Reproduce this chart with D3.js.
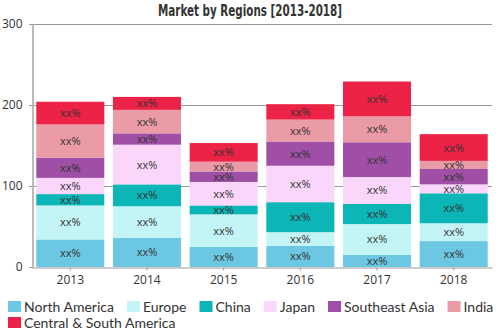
<!DOCTYPE html>
<html><head><meta charset="utf-8">
<script src="https://cdn.jsdelivr.net/npm/d3@7/dist/d3.min.js"></script>
<style>body{margin:0;background:#fff}svg{display:block}</style>
</head><body><svg id="c" width="500" height="333"></svg>
<script>
const years = ["2013","2014","2015","2016","2017","2018"];
const seriesNames = ["North America","Europe","China","Japan","Southeast Asia","India","Central & South America"];
const colors = ["#6cc8e2","#c3f5f6","#0cb5b6","#fbd6fb","#9f50a6","#eb9ba6","#ec2246"];
const northAmerica = [34,36,25,26,15,32];
const europe = [42,39,40,17,38,22];
const china = [14,27,11,37,25,37];
const japan = [20,49,29,45,33,11];
const southeastAsia = [25,14,13,30,43,19];
const india = [41,29,12,27,32,10];
const centralSouthAmerica = [28,16,23,19,43,33];
const yTicks = [0,100,200,300];
const labelText = "xx%";

const seriesValues = [northAmerica,europe,china,japan,southeastAsia,india,centralSouthAmerica];
const table = years.map((y,i)=>{const o={year:y};seriesNames.forEach((s,j)=>o[s]=seriesValues[j][i]);return o;});
const stacked = d3.stack().keys(seriesNames)(table);

const svg = d3.select("#c");
const font = "'Open Sans', sans-serif";
const x = d3.scaleBand().domain(years).range([32,492]).paddingInner(0.113).paddingOuter(0.056);
const y = d3.scaleLinear().domain([0,300]).range([267,24]);

svg.append("text").attr("x",250).attr("y",16).attr("text-anchor","middle")
  .attr("font-family","'DejaVu Sans Condensed','DejaVu Sans',sans-serif").attr("font-weight","bold")
  .attr("font-size",15).attr("fill","#333")
  .attr("textLength",184).attr("lengthAdjust","spacingAndGlyphs")
  .text("Market by Regions [2013-2018]");

// grid
svg.append("g").selectAll("line").data(yTicks.filter(t=>t>0)).join("line")
  .attr("x1",29).attr("x2",492).attr("y1",d=>y(d)+0.5).attr("y2",d=>y(d)+0.5)
  .attr("stroke","#999").attr("stroke-width",1);

// y axis
const ya = svg.append("g").attr("transform","translate(32.5,0)")
  .call(d3.axisLeft(y).tickValues(yTicks).tickSize(3).tickSizeOuter(0));
ya.select(".domain").attr("stroke","#bbb").attr("stroke-width",2);
ya.selectAll(".tick line").attr("stroke","#999");
ya.selectAll("text").attr("font-family",font).attr("font-size",12).attr("fill","#333").attr("x",-10);

// bars
const layer = svg.append("g").selectAll("g").data(stacked).join("g").attr("fill",(d,i)=>colors[i]);
layer.selectAll("rect").data(d=>d).join("rect")
  .attr("x",d=>x(d.data.year)).attr("width",x.bandwidth())
  .attr("y",d=>y(d[1])).attr("height",d=>y(d[0])-y(d[1]));
layer.selectAll("text").data(d=>d).join("text")
  .attr("x",d=>x(d.data.year)+x.bandwidth()/2).attr("y",d=>(y(d[0])+y(d[1]))/2+4)
  .attr("text-anchor","middle").attr("font-family",font).attr("font-size",11)
  .attr("fill","#333").text(labelText);

// x axis
const xa = svg.append("g").attr("transform","translate(0,267.5)")
  .call(d3.axisBottom(x).tickSize(3).tickSizeOuter(0));
xa.select(".domain").attr("stroke","#999");
xa.selectAll(".tick line").attr("stroke","#999");
xa.selectAll("text").attr("font-family",font).attr("font-size",12).attr("fill","#333").attr("dy","0.9em");

// legend flow layout
const lg = svg.append("g");
let lx = 8, ly = 301;
seriesNames.forEach((s,i)=>{
  const g = lg.append("g");
  const t = g.append("text").attr("font-family","Lato, sans-serif").attr("font-size",14).attr("fill","#333").text(s);
  const w = t.node().getComputedTextLength();
  if (lx + 16 + w > 500) { lx = 8; ly += 16; }
  g.append("rect").attr("x",lx).attr("y",ly).attr("width",13).attr("height",11).attr("fill",colors[i]);
  t.attr("x",lx+16).attr("y",ly+11);
  lx += 16 + w + 13;
});
</script></body></html>
